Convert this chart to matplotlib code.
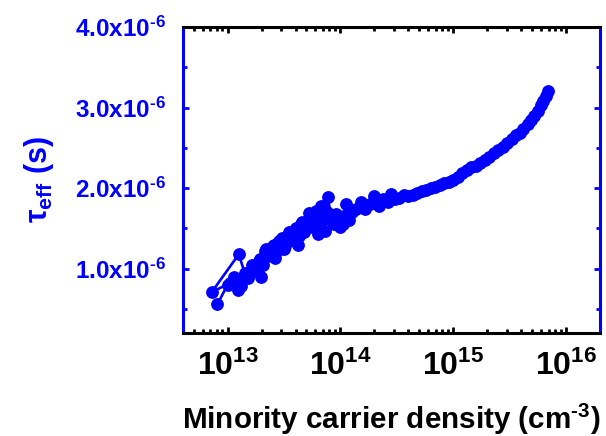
import numpy as np
import matplotlib
matplotlib.use("Agg")
import matplotlib.pyplot as plt
from matplotlib.ticker import FixedLocator, MultipleLocator, NullFormatter

plt.rcParams['font.family'] = ['Liberation Sans', 'DejaVu Sans']
plt.rcParams['font.weight'] = 'bold'
plt.rcParams['axes.labelweight'] = 'bold'
plt.rcParams['mathtext.fontset'] = 'custom'
plt.rcParams['mathtext.rm'] = 'Liberation Sans:bold'
plt.rcParams['mathtext.bf'] = 'Liberation Sans:bold'
plt.rcParams['mathtext.it'] = 'Liberation Sans:bold'

# decay measurement, log10 of carrier density and lifetime in microseconds
log_density = [
    15.84, 15.82, 15.80, 15.78, 15.75, 15.72, 15.69, 15.66, 15.62, 15.59,
    15.56, 15.52, 15.48, 15.44, 15.40, 15.36, 15.32, 15.28, 15.24, 15.20,
    15.16, 15.12, 15.08, 15.04, 15.00, 14.96, 14.92, 14.88, 14.84, 14.80,
    14.76, 14.72, 14.68, 14.64, 14.60, 14.56, 14.52, 14.48, 14.45, 14.42,
    14.38, 14.34, 14.30, 14.26, 14.22, 14.18, 14.14, 14.10, 14.08, 14.05,
    14.03, 14.02, 14.00, 13.98, 13.96, 13.94, 13.92, 13.89, 13.88, 13.86,
    13.85, 13.83, 13.82, 13.80, 13.79, 13.78, 13.76, 13.74, 13.72, 13.70,
    13.68, 13.66, 13.65, 13.63, 13.62, 13.61, 13.60, 13.58, 13.56, 13.54,
    13.53, 13.51, 13.50, 13.48, 13.46, 13.44, 13.42, 13.41, 13.40, 13.38,
    13.36, 13.34, 13.33, 13.31, 13.30, 13.29, 13.28, 13.26, 13.24, 13.22,
    13.20, 13.18, 13.16, 13.14, 13.12, 13.15, 13.10, 12.86, 13.02, 13.06,
    13.09, 13.00, 12.91,
]
tau_us = [
    3.20, 3.14, 3.08, 3.03, 2.96, 2.90, 2.84, 2.79, 2.74, 2.69,
    2.66, 2.61, 2.56, 2.51, 2.47, 2.43, 2.39, 2.35, 2.31, 2.28,
    2.26, 2.22, 2.19, 2.14, 2.10, 2.08, 2.06, 2.04, 2.02, 2.00,
    1.98, 1.96, 1.94, 1.92, 1.90, 1.92, 1.88, 1.86, 1.93, 1.83,
    1.86, 1.78, 1.90, 1.80, 1.74, 1.83, 1.74, 1.70, 1.60, 1.80,
    1.66, 1.55, 1.52, 1.62, 1.68, 1.56, 1.60, 1.89, 1.70, 1.47,
    1.62, 1.78, 1.55, 1.43, 1.60, 1.72, 1.52, 1.62, 1.69, 1.50,
    1.45, 1.58, 1.55, 1.40, 1.30, 1.50, 1.48, 1.35, 1.38, 1.45,
    1.36, 1.28, 1.24, 1.38, 1.34, 1.22, 1.13, 1.30, 1.28, 1.18,
    1.16, 1.25, 1.22, 1.05, 0.90, 1.12, 1.10, 0.98, 0.98, 1.04,
    0.96, 0.88, 0.92, 0.87, 0.78, 0.95, 1.18, 0.71, 0.82, 0.90,
    0.73, 0.80, 0.56,
]

density = 10.0 ** np.array(log_density)
tau = np.array(tau_us) * 1e-6

hy = '\u2010'
y_ticks = [1.0e-6, 2.0e-6, 3.0e-6, 4.0e-6]
y_labels = [r'$\mathrm{%s.0x10^{%s6}}$' % (v, hy) for v in (1, 2, 3, 4)]
x_ticks = [1e13, 1e14, 1e15, 1e16]
x_labels = [r'$\mathrm{10^{%d}}$' % e for e in (13, 14, 15, 16)]

blue = '#0000ff'

fig = plt.figure(figsize=(6.06, 4.36), dpi=100)
ax = fig.add_axes([0.3015, 0.236, 0.6885, 0.702])

ax.plot(density, tau, '-o', color=blue, lw=1.9, ms=8.2, mec=blue, mfc=blue)

ax.set_xscale('log')
ax.set_xlim(4e12, 2e16)
ax.set_ylim(0.2e-6, 4.0e-6)

ax.xaxis.set_major_locator(FixedLocator(x_ticks))
ax.set_xticklabels(x_labels, fontsize=23)
ax.xaxis.set_minor_formatter(NullFormatter())
ax.yaxis.set_major_locator(FixedLocator(y_ticks))
ax.set_yticklabels(y_labels, fontsize=17.5, color=blue)
ax.yaxis.set_minor_locator(MultipleLocator(0.5e-6))

ax.tick_params(which='both', direction='in', top=True, right=True, width=2)
ax.tick_params(which='major', length=4)
ax.tick_params(which='minor', length=3)
ax.tick_params(axis='y', which='both', colors=blue, pad=12)
ax.tick_params(axis='x', which='both', colors='black', pad=13)
ax.tick_params(axis='y', labelcolor=blue)

for side in ['top', 'bottom']:
    ax.spines[side].set_color('black')
    ax.spines[side].set_linewidth(2.2)
for side in ['left', 'right']:
    ax.spines[side].set_color(blue)
    ax.spines[side].set_linewidth(2.2)

ax.set_xlabel('Minority carrier density (cm$^{%s3}$)' % hy, fontsize=21.3,
              fontweight='bold', labelpad=14)
ax.set_ylabel(r'$\tau_{\mathrm{eff}}$ (s)', fontsize=22, color=blue,
              fontweight='bold', labelpad=14)

fig.savefig('out.png', dpi=100)
